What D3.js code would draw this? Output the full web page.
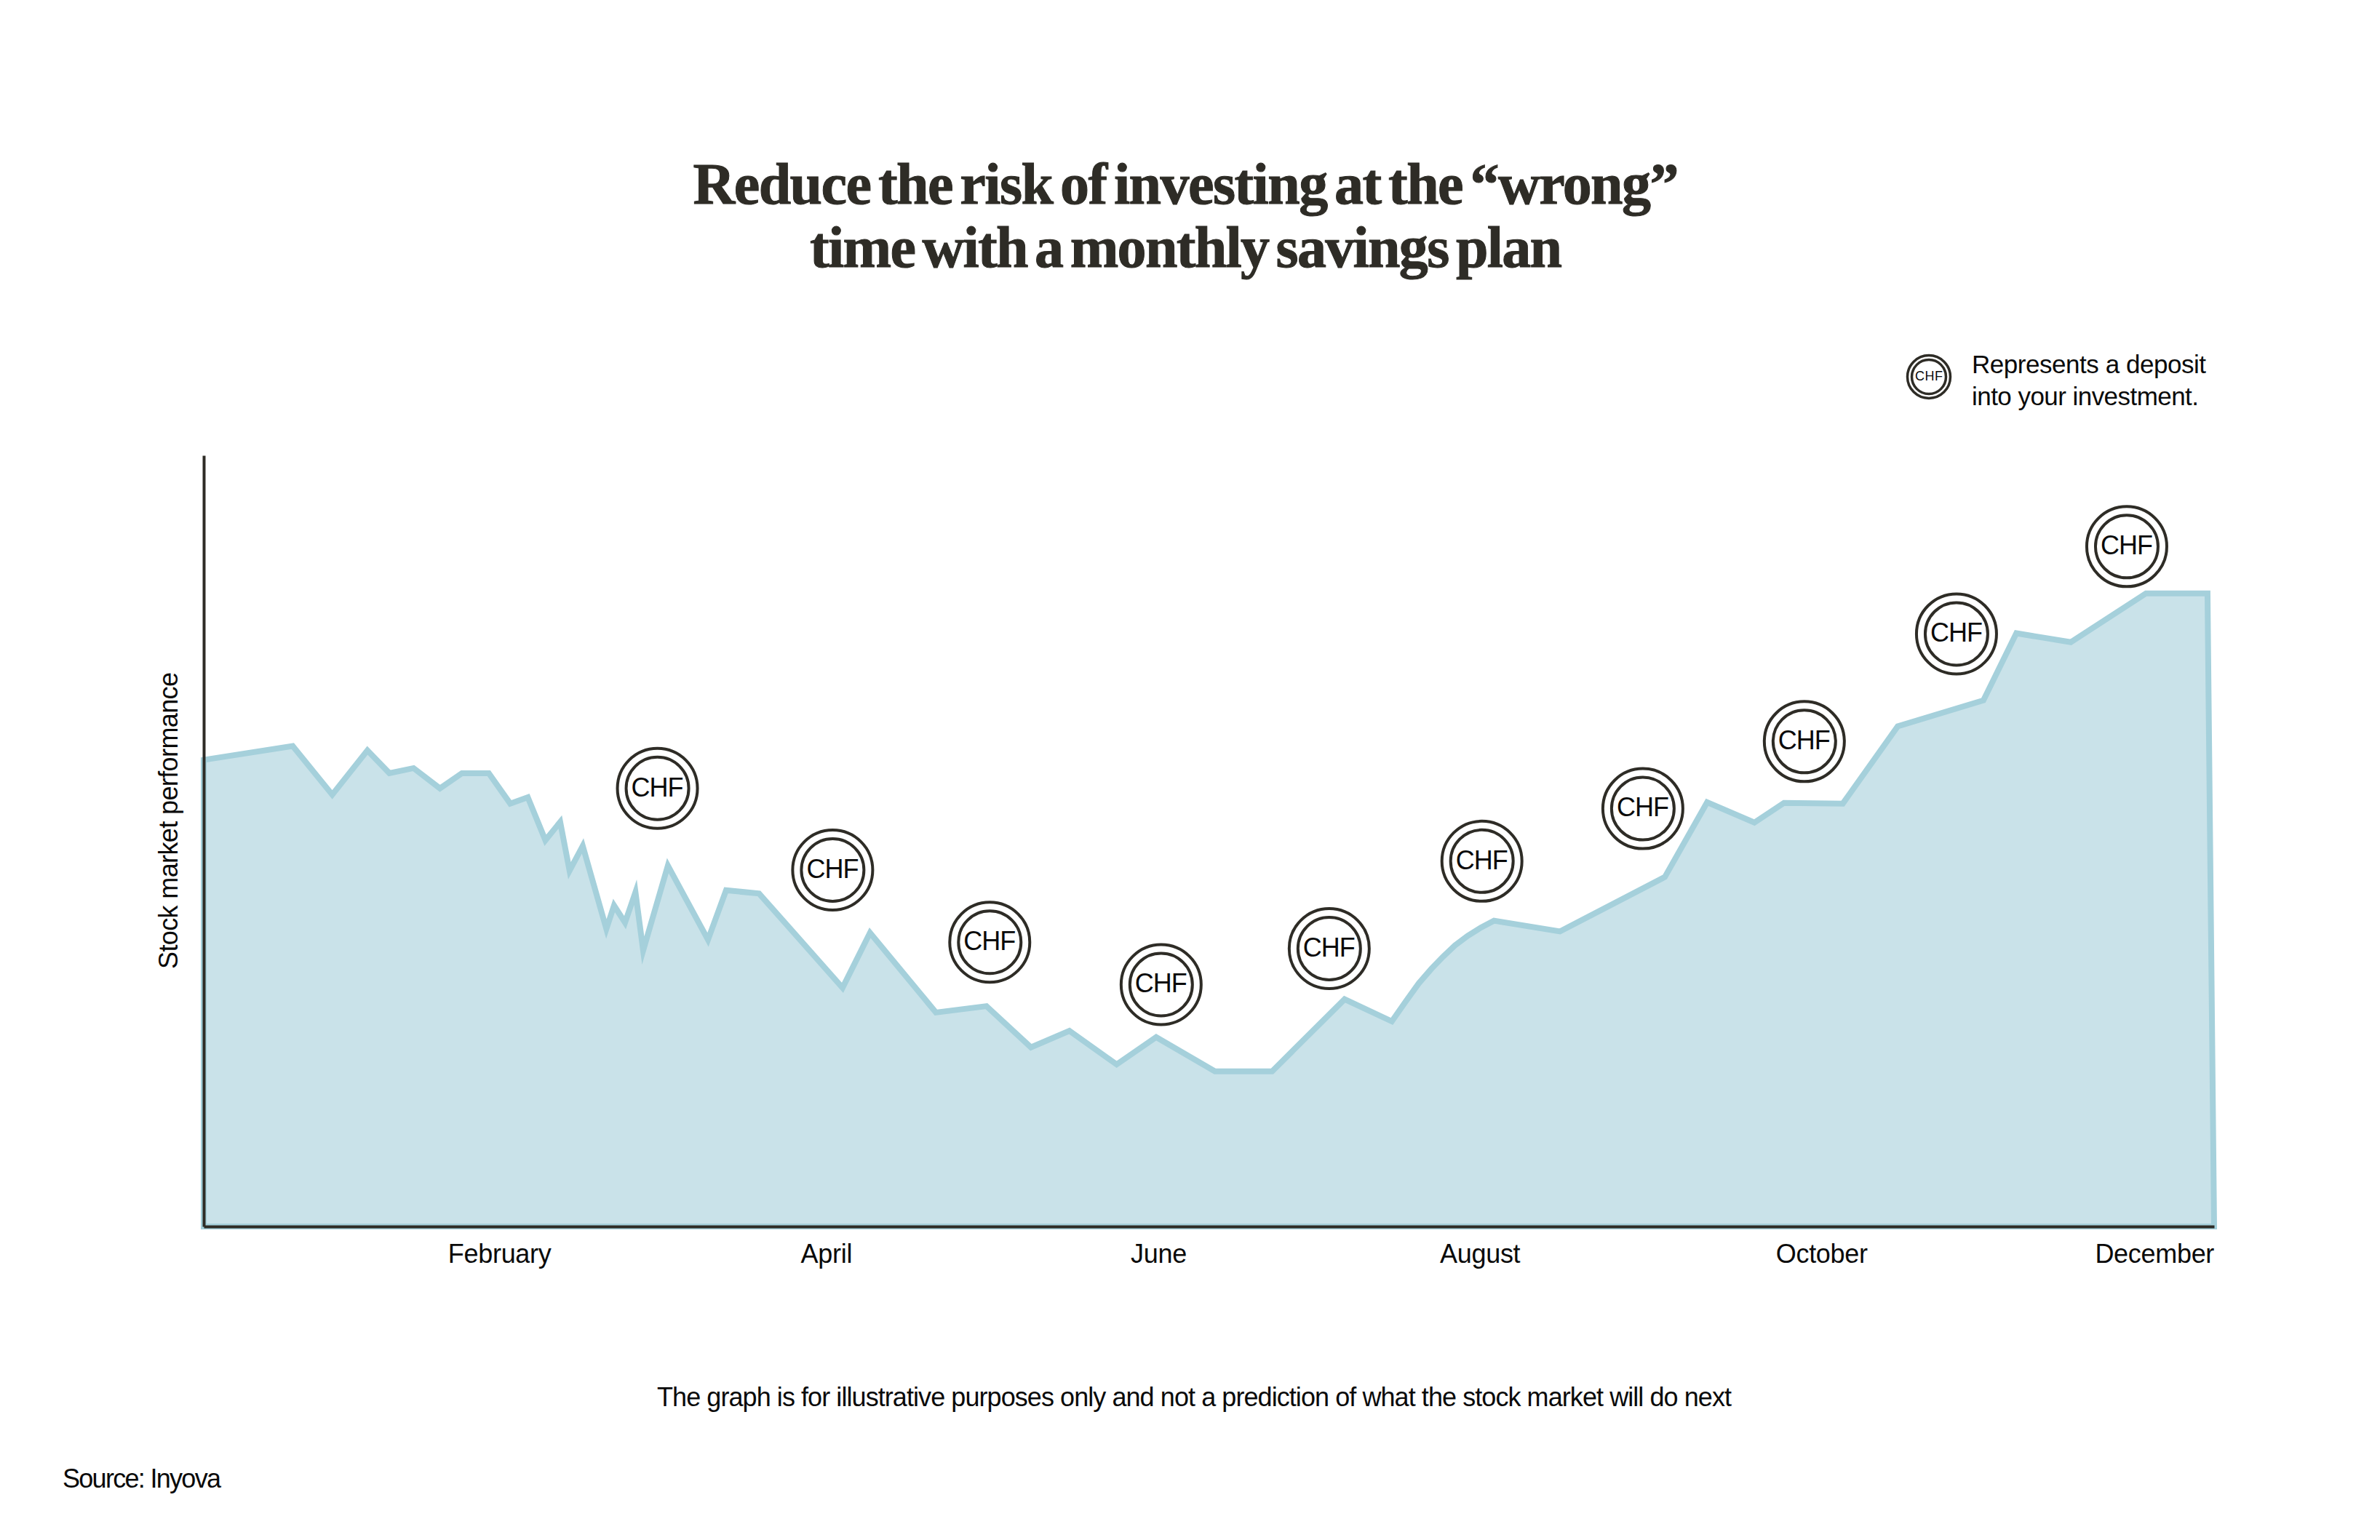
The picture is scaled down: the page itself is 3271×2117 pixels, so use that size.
<!DOCTYPE html>
<html>
<head>
<meta charset="utf-8">
<title>Monthly savings plan</title>
<script src="https://cdn.jsdelivr.net/npm/d3@7"></script>
<style>
    body { margin: 0; background: #fff; }
    text { font-family: "Liberation Sans", sans-serif; fill: #0a0a0a; }
</style>
</head>
<body>
<svg id="grafico" width="3271" height="2117"></svg>
<script>
// x in days of the year, y as an index of performance
const dias = [0, 16.2, 23.4, 29.8, 33.8, 38.2, 43.0, 47.0, 51.9, 55.8, 59.0, 62.2, 64.9, 66.6, 69.0,
    73.3, 74.7, 76.7, 78.6, 80.0, 84.5, 91.8, 95.1, 101.1, 116.3, 121.3, 133.3, 142.5, 150.6, 157.6,
    166.2, 173.4, 184.1, 194.5, 207.7, 216.3, 218.8, 221.2, 223.5, 225.6, 227.8, 230.1, 232.5, 234.9,
    246.9, 266.0, 273.7, 282.3, 287.7, 298.4, 308.4, 324.0, 330.0, 339.9, 353.6, 364.8, 366];
const valores = [73.7, 75.9, 68.2, 75.2, 71.6, 72.4, 69.2, 71.6, 71.6, 66.8, 67.8, 61.0, 63.9, 56.2, 60.1,
    47.0, 50.7, 48.0, 52.8, 43.6, 57.0, 45.3, 53.1, 52.6, 37.7, 46.4, 33.8, 34.8, 28.3, 30.9,
    25.6, 29.9, 24.5, 24.5, 35.9, 32.4, 35.5, 38.4, 40.7, 42.6, 44.4, 45.9, 47.2, 48.3,
    46.6, 55.2, 67.0, 63.8, 66.9, 66.8, 79.0, 83.1, 93.7, 92.3, 100, 100, 0];

const depositoDias = [82.6, 114.5, 143.1, 174.3, 204.9, 232.7, 262.0, 291.4, 319.1, 350.1];
const depositoValores = [69.2, 56.3, 44.9, 38.2, 43.9, 57.7, 66.0, 76.6, 93.6, 107.4];

const meses = ["February", "April", "June", "August", "October", "December"];
const mesDias = [53.8, 113.3, 173.8, 232.3, 294.5, 355.1];

const titulo = ["Reduce the risk of investing at the “wrong”", "time with a monthly savings plan"];
const leyenda = ["Represents a deposit", "into your investment."];

const azul = "#a5d0db";
const azulClaro = "#c9e2e9";
const negro = "#2e2c26";

const svg = d3.select("#grafico");

const x = d3.scaleLinear().domain([0, 366]).range([280, 3043]);
const y = d3.scaleLinear().domain([0, 121.8]).range([1686, 626]);

const puntos = dias.map((d, i) => ({ dia: d, valor: valores[i] }));

const area = d3.area()
    .x(d => x(d.dia))
    .y0(y(0))
    .y1(d => y(d.valor));

svg.append("path")
    .datum(puntos)
    .attr("d", area)
    .attr("fill", azulClaro)
    .attr("stroke", azul)
    .attr("stroke-width", 8)
    .attr("stroke-linejoin", "miter")
    .attr("stroke-miterlimit", 10);

// axes
const ejeX = svg.append("g")
    .attr("transform", `translate(0,${y(0)})`)
    .call(d3.axisBottom(x)
        .tickValues(mesDias)
        .tickFormat((d, i) => meses[i])
        .tickSize(0)
        .tickPadding(24.4));

ejeX.selectAll("text")
    .style("font-family", '"Liberation Sans", sans-serif')
    .style("font-size", "36px")
    .style("letter-spacing", "-0.3px")
    .attr("fill", "#0a0a0a");

const ejeY = svg.append("g")
    .attr("transform", `translate(${x(0)},0)`)
    .call(d3.axisLeft(y).tickValues([]).tickSize(0));

svg.selectAll(".domain")
    .attr("stroke", negro)
    .attr("stroke-width", 4);

// CHF coin, used on the chart and in the legend
function moneda(cx, cy, r1, r2, ancho, fuente, largo) {
    const g = svg.append("g").attr("class", "moneda");
    g.append("circle").attr("cx", cx).attr("cy", cy).attr("r", r1)
        .attr("fill", "#fff").attr("stroke", negro).attr("stroke-width", ancho);
    g.append("circle").attr("cx", cx).attr("cy", cy).attr("r", r2)
        .attr("fill", "none").attr("stroke", negro).attr("stroke-width", ancho);
    g.append("text")
        .attr("x", cx)
        .attr("y", cy + fuente * 0.3)
        .attr("text-anchor", "middle")
        .attr("textLength", largo)
        .style("font-size", fuente + "px")
        .text("CHF");
}

depositoDias.forEach((d, i) => {
    moneda(x(d), y(depositoValores[i]), 55, 43, 4, 36, 72);
});

moneda(2651, 518, 29.5, 23.5, 3.5, 18, 38);

// texts
titulo.forEach((t, i) => {
    svg.append("text")
        .attr("x", 1630)
        .attr("y", 280 + i * 87)
        .attr("text-anchor", "middle")
        .attr("textLength", i === 0 ? 1355 : 1034)
        .style("font-family", '"Liberation Serif", serif')
        .style("font-weight", "bold")
        .style("font-size", "80px")
        .style("word-spacing", "-8px")
        .style("fill", negro)
        .style("stroke", negro)
        .style("stroke-width", "1px")
        .text(t);
});

leyenda.forEach((t, i) => {
    svg.append("text")
        .attr("x", 2710)
        .attr("y", 513 + i * 44)
        .attr("textLength", i === 0 ? 322 : 312)
        .style("font-size", "35px")
        .text(t);
});

svg.append("text")
    .attr("transform", "rotate(-90)")
    .attr("x", -1332)
    .attr("y", 244)
    .attr("textLength", 408)
    .style("font-size", "36px")
    .text("Stock market performance");

svg.append("text")
    .attr("x", 903)
    .attr("y", 1933)
    .attr("textLength", 1477)
    .style("font-size", "36px")
    .text("The graph is for illustrative purposes only and not a prediction of what the stock market will do next");

svg.append("text")
    .attr("x", 86)
    .attr("y", 2045)
    .attr("textLength", 218)
    .style("font-size", "36px")
    .text("Source: Inyova");
</script>
</body>
</html>
